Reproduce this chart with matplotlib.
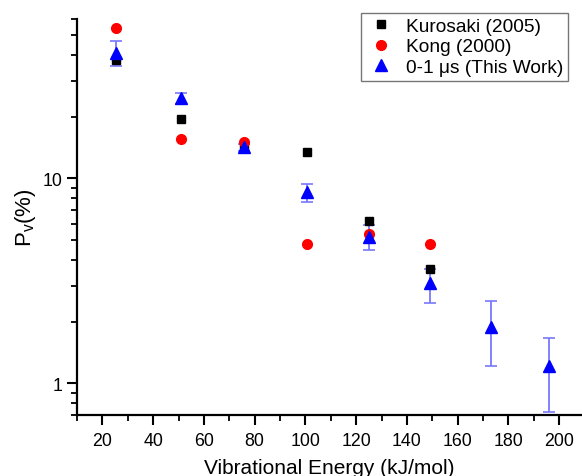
import matplotlib as mpl
import matplotlib.pyplot as plt
import matplotlib.ticker as ticker
import numpy as np

plt.rcParams["font.family"] = ["Liberation Sans", "DejaVu Sans"]
plt.rcParams["mathtext.fontset"] = "custom"
plt.rcParams["mathtext.rm"] = "Liberation Sans"

# data
energy = [25.5, 51, 76, 100.5, 125, 149, 173, 196]
kurosaki_x = [25.5, 51, 76, 100.5, 125, 149]
kurosaki_p = [38.0, 19.6, 14.3, 13.4, 6.17, 3.6]
kong_x = [25.5, 51, 76, 100.5, 125, 149]
kong_p = [54.0, 15.5, 15.1, 4.77, 5.33, 4.77]
work_p = [41.0, 24.6, 14.2, 8.55, 5.15, 3.07, 1.88, 1.21]
work_hi = [46.6, 26.0, 14.8, 9.35, 5.9, 3.6, 2.52, 1.66]
work_lo = [35.2, 23.0, 13.6, 7.7, 4.45, 2.47, 1.22, 0.72]

fig = plt.figure(figsize=(5.82, 4.77), dpi=100)
ax = fig.add_axes([77 / 582, 1 - 416 / 477, (582 - 77) / 582, (416 - 20) / 477])

yerr = np.array([np.subtract(work_p, work_lo), np.subtract(work_hi, work_p)])

ax.errorbar(energy, work_p, yerr=yerr, fmt="none", ecolor="#7878ff",
            elinewidth=1.3, capsize=4, capthick=1.2, zorder=2)
ax.plot(kurosaki_x, kurosaki_p, "s", color="black", markersize=6,
        label="Kurosaki (2005)", zorder=3)
ax.plot(kong_x, kong_p, "o", color="#ff0000", markersize=7,
        label="Kong (2000)", zorder=3)
ax.plot(energy, work_p, "^", color="#0000ff", markersize=8.5,
        label="0-1 \u03bcs (This Work)", zorder=4)

ax.set_yscale("log")
ax.set_xlim(10, 209)
ax.set_ylim(0.7, 60)

ax.xaxis.set_major_locator(ticker.MultipleLocator(20))
ax.xaxis.set_minor_locator(ticker.MultipleLocator(10))
ax.yaxis.set_major_locator(ticker.FixedLocator([1, 10]))
ax.yaxis.set_major_formatter(ticker.FixedFormatter(["1", "10"]))
ax.yaxis.set_minor_locator(ticker.LogLocator(base=10, subs=np.arange(2, 10)))
ax.yaxis.set_minor_formatter(ticker.NullFormatter())

for side in ["top", "right"]:
    ax.spines[side].set_visible(False)
for side in ["left", "bottom"]:
    ax.spines[side].set_linewidth(1.6)

ax.tick_params(which="major", direction="out", length=7, width=1.5,
               labelsize=12.8, pad=5)
ax.tick_params(axis="y", which="major", pad=3.5)
ax.tick_params(which="minor", direction="out", length=4, width=1.3)

ax.set_xlabel("Vibrational Energy (kJ/mol)", fontsize=15, labelpad=7)
ax.set_ylabel("P$_\\mathregular{v}$(%)", fontsize=16, labelpad=3)

leg = ax.legend(loc="upper right", bbox_to_anchor=(0.98, 1.025), fontsize=13.8,
                frameon=True, fancybox=False, edgecolor="#555555",
                handletextpad=0.5, borderpad=0.25, labelspacing=0.15,
                handlelength=1.6, borderaxespad=0.2)
leg.get_frame().set_linewidth(1.0)

fig.savefig("out.png", dpi=100)
